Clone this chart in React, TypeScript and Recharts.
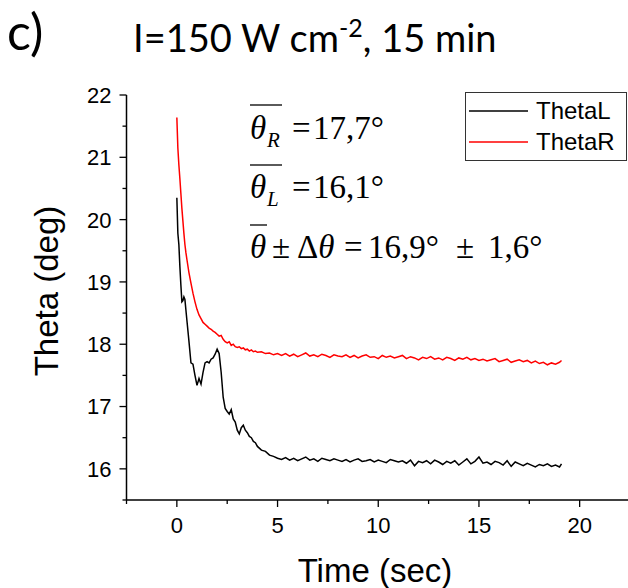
import { LineChart, Line, XAxis, YAxis } from "recharts";

// sample times (sec)
const TIME = [
  0, 0.05, 0.1, 0.15, 0.2, 0.25, 0.3, 0.35, 0.4, 0.45, 0.5,
  0.6, 0.7, 0.8, 0.9, 1.0, 1.1, 1.2, 1.3, 1.4, 1.5,
  1.6, 1.7, 1.8, 1.9, 2.0, 2.1, 2.2, 2.3, 2.4, 2.5,
  2.6, 2.7, 2.8, 2.9, 3.0, 3.1, 3.2, 3.3, 3.4, 3.5,
  3.6, 3.7, 3.8, 3.9, 4.0,
  4.2, 4.4, 4.6, 4.8, 5.0,
  5.2, 5.4, 5.6, 5.8, 6.0, 6.2, 6.4, 6.6, 6.8, 7.0, 7.2, 7.4, 7.6, 7.8, 8.0,
  8.2, 8.4, 8.6, 8.8, 9.0, 9.2, 9.4, 9.6, 9.8, 10.0, 10.2, 10.4, 10.6, 10.8, 11.0,
  11.2, 11.4, 11.6, 11.8, 12.0, 12.2, 12.4, 12.6, 12.8, 13.0, 13.2, 13.4, 13.6, 13.8, 14.0,
  14.2, 14.4, 14.6, 14.8, 15.0, 15.2, 15.4, 15.6, 15.8, 16.0, 16.2, 16.4, 16.6, 16.8, 17.0,
  17.2, 17.4, 17.6, 17.8, 18.0, 18.2, 18.4, 18.6, 18.8, 19.0,
  19.1,
];

const THETA_L = [
  20.35, 19.78, 19.6, 19.25, 18.95, 18.68, 18.7, 18.76, 18.72, 18.55, 18.38,
  18.05, 17.7, 17.68, 17.5, 17.34, 17.45, 17.36, 17.55, 17.7, 17.72,
  17.7, 17.76, 17.78, 17.84, 17.92, 17.85, 17.55, 17.15, 16.97, 16.92,
  16.88, 16.95, 16.8, 16.75, 16.62, 16.56, 16.66, 16.7, 16.62, 16.58,
  16.52, 16.5, 16.44, 16.42, 16.36,
  16.3, 16.28, 16.22, 16.2, 16.17,
  16.15, 16.18, 16.14, 16.17, 16.13, 16.16, 16.19, 16.14, 16.16, 16.12, 16.17, 16.15, 16.13, 16.16, 16.14,
  16.12, 16.15, 16.11, 16.14, 16.16, 16.12, 16.13, 16.15, 16.11, 16.14, 16.12, 16.1, 16.15, 16.13, 16.11,
  16.13, 16.09, 16.14, 16.05, 16.12, 16.1, 16.13, 16.08, 16.14, 16.11, 16.07, 16.12, 16.09, 16.13, 16.06,
  16.11, 16.16, 16.08, 16.12, 16.19, 16.09, 16.11, 16.07, 16.12, 16.1, 16.06, 16.13, 16.04, 16.11, 16.08,
  16.05, 16.09, 16.06, 16.03, 16.07, 16.05, 16.08, 16.04, 16.06, 16.03,
  16.08,
];

const THETA_R = [
  21.64, 21.15, 20.88, 20.66, 20.42, 20.18, 19.98, 19.78, 19.6, 19.47, 19.36,
  19.15, 18.98, 18.82, 18.68, 18.56, 18.47, 18.41, 18.35, 18.32, 18.29,
  18.26, 18.24, 18.21, 18.19, 18.16, 18.13, 18.14, 18.08, 18.04, 18.02,
  18.04, 17.98, 18.0, 17.96, 17.95, 17.96, 17.93, 17.94, 17.91, 17.92,
  17.89, 17.91, 17.88, 17.89, 17.87,
  17.88, 17.85, 17.86, 17.83, 17.85,
  17.82, 17.85, 17.81, 17.84, 17.8, 17.83, 17.86, 17.81, 17.83, 17.8, 17.84, 17.82, 17.79, 17.83, 17.81,
  17.8, 17.83, 17.79, 17.82, 17.78, 17.81, 17.83, 17.79, 17.8, 17.77, 17.82, 17.79, 17.81, 17.78, 17.8,
  17.82, 17.77, 17.8, 17.78, 17.75, 17.79, 17.77, 17.8, 17.76, 17.78, 17.75, 17.79, 17.77, 17.74, 17.78,
  17.76, 17.79, 17.75, 17.77, 17.74, 17.76, 17.73, 17.75, 17.77, 17.72, 17.74, 17.76, 17.71, 17.73, 17.75,
  17.72, 17.74, 17.7, 17.73, 17.69, 17.71, 17.67, 17.7, 17.68, 17.71,
  17.74,
];

const SERIES = [
  { key: "thetaL", name: "ThetaL", color: "#000000" },
  { key: "thetaR", name: "ThetaR", color: "#ff0000" },
];

const X_TICKS = [-2.5, 0, 2.5, 5, 7.5, 10, 12.5, 15, 17.5, 20, 22.5];
const Y_TICKS = [15.5, 16, 16.5, 17, 17.5, 18, 18.5, 19, 19.5, 20, 20.5, 21, 21.5, 22];

const data = TIME.map((t, i) => ({ t, thetaL: THETA_L[i], thetaR: THETA_R[i] }));

const SANS = '"Liberation Sans", Arial, sans-serif';
const SERIF = '"Liberation Serif", "Times New Roman", serif';
const TITLE = 'Lato, "Open Sans", sans-serif';

const MAJOR = 7;
const MINOR = 4;
const MARGIN = 8;

function YTick(props: any) {
  const { x, y, payload } = props;
  const ax = x + MAJOR + MARGIN;
  const major = Number.isInteger(payload.value);
  return (
    <g>
      <line x1={ax - (major ? MAJOR : MINOR)} x2={ax} y1={y} y2={y} stroke="#000" strokeWidth={1.3} />
      {major && (
        <text x={x} y={y} dy="0.36em" textAnchor="end" fontFamily={SANS} fontSize={22} fill="#000">
          {payload.value}
        </text>
      )}
    </g>
  );
}

function XTick(props: any) {
  const { x, y, payload } = props;
  const ay = y - MAJOR - 9;
  const major = payload.value % 5 === 0;
  return (
    <g>
      <line x1={x} x2={x} y1={ay} y2={ay + (major ? MAJOR : MINOR)} stroke="#000" strokeWidth={1.3} />
      {major && (
        <text x={x} y={y + 17} textAnchor="middle" fontFamily={SANS} fontSize={22} fill="#000">
          {payload.value}
        </text>
      )}
    </g>
  );
}

export default function App() {
  return (
    <div style={{ position: "absolute", left: 0, top: 0, width: 628, height: 588, overflow: "hidden", background: "#fff" }}>
      <LineChart width={632} height={588} data={data} margin={{ top: 95, right: 2, bottom: 38, left: 66.5 }}>
        <XAxis
          dataKey="t"
          type="number"
          domain={[-2.5, 22.5]}
          ticks={X_TICKS}
          interval={0}
          allowDataOverflow
          height={50}
          tickSize={MAJOR}
          tickMargin={9}
          tickLine={false}
          axisLine={{ stroke: "#000", strokeWidth: 1.5 }}
          tick={<XTick />}
        />
        <YAxis
          type="number"
          domain={[15.5, 22]}
          ticks={Y_TICKS}
          interval={0}
          allowDataOverflow
          width={60}
          tickSize={MAJOR}
          tickMargin={MARGIN}
          tickLine={false}
          axisLine={{ stroke: "#000", strokeWidth: 1.5 }}
          tick={<YTick />}
        />
        {SERIES.map((s) => (
          <Line
            key={s.key}
            type="linear"
            dataKey={s.key}
            name={s.name}
            stroke={s.color}
            strokeWidth={1.5}
            dot={false}
            isAnimationActive={false}
          />
        ))}
      </LineChart>

      <svg width={628} height={588} style={{ position: "absolute", left: 0, top: 0, pointerEvents: "none" }}>
        <text x={7} y={50} fontFamily={TITLE} fontSize={50} fill="#000">c)</text>
        <text x={133} y={52} fontFamily={TITLE} fontSize={38} fill="#000">
          I=150 W cm<tspan fontSize={25} dy={-15}>-2</tspan>
          <tspan dy={15}>, 15 min</tspan>
        </text>

        <text x={375} y={582} textAnchor="middle" fontFamily={SANS} fontSize={33} fill="#000">Time (sec)</text>
        <text transform="translate(58,291) rotate(-90)" textAnchor="middle" fontFamily={SANS} fontSize={33} fill="#000">
          Theta (deg)
        </text>

        <g fontFamily={SERIF} fontSize={33} fill="#000">
          <line x1={250} x2={282} y1={105} y2={105} stroke="#000" strokeWidth={1.3} />
          <text y={139}>
            <tspan x={250} fontStyle="italic">θ</tspan>
            <tspan x={267} dy={8} fontSize={21} fontStyle="italic">R</tspan>
            <tspan x={292} dy={-8}>=</tspan>
            <tspan x={313}>17,7°</tspan>
          </text>
          <line x1={250} x2={282} y1={165} y2={165} stroke="#000" strokeWidth={1.3} />
          <text y={198}>
            <tspan x={250} fontStyle="italic">θ</tspan>
            <tspan x={267} dy={8} fontSize={21} fontStyle="italic">L</tspan>
            <tspan x={292} dy={-8}>=</tspan>
            <tspan x={313}>16,1°</tspan>
          </text>
          <line x1={250} x2={267} y1={225} y2={225} stroke="#000" strokeWidth={1.3} />
          <text y={258}>
            <tspan x={250} fontStyle="italic">θ</tspan>
            <tspan x={272}>±</tspan>
            <tspan x={297}>Δ</tspan>
            <tspan fontStyle="italic">θ</tspan>
            <tspan x={344}>=</tspan>
            <tspan x={368}>16,9°</tspan>
            <tspan x={456}>±</tspan>
            <tspan x={488}>1,6°</tspan>
          </text>
        </g>

        <g>
          <rect x={465.5} y={92.5} width={161} height={68} fill="#fff" stroke="#333" strokeWidth={1} />
          {SERIES.map((s, i) => (
            <g key={s.key}>
              <line x1={469} x2={528} y1={111 + i * 31} y2={111 + i * 31} stroke={s.color} strokeWidth={1.5} />
              <text x={536} y={119 + i * 31} fontFamily={SANS} fontSize={24} fill="#000">{s.name}</text>
            </g>
          ))}
        </g>
      </svg>
    </div>
  );
}
